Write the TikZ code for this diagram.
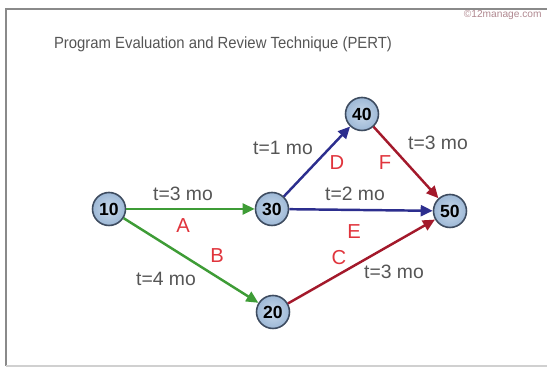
\documentclass[tikz,border=0pt]{standalone}
\usepackage{fontspec}
\setmainfont{Liberation Sans}
\usetikzlibrary{arrows.meta, positioning}
\definecolor{evfill}{HTML}{9DB8D6}
\definecolor{evlight}{HTML}{C9D9EA}
\definecolor{evedge}{HTML}{3E4C60}
\definecolor{actgreen}{HTML}{3E9C36}
\definecolor{actblue}{HTML}{2C2E8E}
\definecolor{actdred}{HTML}{A3192B}
\definecolor{durgray}{HTML}{555555}
\definecolor{letred}{HTML}{E0343C}
\definecolor{framegray}{HTML}{8A8A8A}
\definecolor{markgray}{HTML}{B08890}
\tikzstyle{event} = [circle, minimum size=0.66cm, inner sep=0pt, draw=evedge, line width=0.9pt, inner color=evlight, outer color=evfill, font=\bfseries\fontsize{10}{12}\selectfont]
\tikzstyle{arrow} = [line width=1.4pt, -{Triangle[length=2.4mm, width=2.2mm]}]
\tikzstyle{dur} = [text=durgray, inner sep=1pt, font=\fontsize{11}{13}\selectfont]
\tikzstyle{act} = [text=letred, inner sep=1pt, font=\fontsize{11.5}{13}\selectfont]

\begin{document}
\begin{tikzpicture}[x=0.2mm, y=-0.2mm]
      \useasboundingbox (0,0) rectangle (547,369);
      % Khung
      \draw[framegray, line width=1pt] (547,9) -- (6,9) -- (6,366);
      \draw[framegray!40, line width=0.8pt] (6,366) -- (547,366);

      % Tiêu đề
      \node[text=durgray, font=\fontsize{9.2}{11}\selectfont, xscale=0.92, transform shape] (title) at (223,44) {Program Evaluation and Review Technique (PERT)};
      \node[text=markgray, font=\fontsize{5.8}{7}\selectfont, anchor=east, inner sep=0pt] (mark) at (542,15) {\textcopyright 12manage.com};

      % Sự kiện
      \node[event] (e10) at (109,209) {10};
      \node[event] (e30) at (272,209) {30};
      \node[event] (e40) at (362,114) {40};
      \node[event] (e50) at (450,211) {50};
      \node[event] (e20) at (273,312) {20};

      % Mũi tên
      \draw[arrow, actgreen] (e10) -- (e30);
      \draw[arrow, actgreen] (e10) -- (e20);
      \draw[arrow, actblue] (e30) -- (e40);
      \draw[arrow, actblue] (e30) -- (e50);
      \draw[arrow, actdred] (e40) -- (e50);
      \draw[arrow, actdred] (e20) -- (e50);

      % Nhãn
      \node[dur] (tA) at (183,194) {t=3 mo};
      \node[act] (lA) at (183,226) {A};
      \node[act] (lB) at (217,256) {B};
      \node[dur] (tB) at (166,279) {t=4 mo};
      \node[dur] (tD) at (283,148) {t=1 mo};
      \node[act] (lD) at (337,163) {D};
      \node[act] (lF) at (385,163) {F};
      \node[dur] (tF) at (438,143) {t=3 mo};
      \node[dur] (tE) at (355,194) {t=2 mo};
      \node[act] (lE) at (354,232) {E};
      \node[act] (lC) at (339,258) {C};
      \node[dur] (tC) at (394,272) {t=3 mo};
\end{tikzpicture}
\end{document}
